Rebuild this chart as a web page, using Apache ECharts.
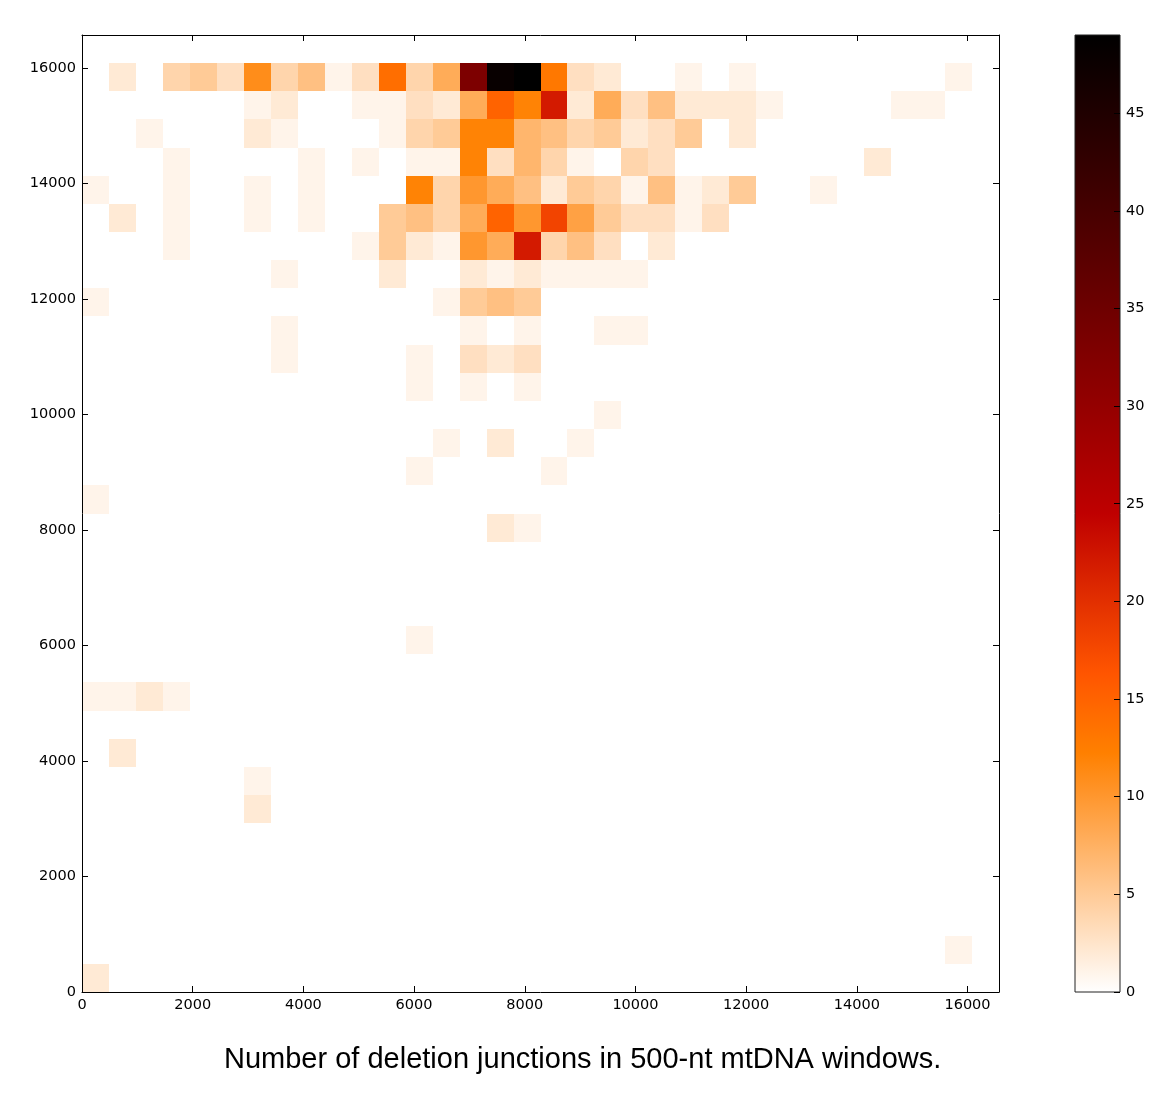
<!DOCTYPE html>
<html>
<head>
<meta charset="utf-8">
<title>Deletion junctions in mtDNA windows</title>
<script src="https://cdn.jsdelivr.net/npm/echarts@6/dist/echarts.min.js"></script>
<style>
  html, body { margin: 0; padding: 0; background: #ffffff; }
  #chart { width: 1173px; height: 1093px; }
</style>
</head>
<body>
<div id="chart"></div>
<script>
// mtDNA length, histogram has the same bins on both axes
const genomeLength = 16569;
const binCount = 34;
const binSize = genomeLength / binCount;

const axisTicks = [0, 2000, 4000, 6000, 8000, 10000, 12000, 14000, 16000];
const colorbarTicks = [0, 5, 10, 15, 20, 25, 30, 35, 40, 45];
const maxCount = 49;

// gist_heat reversed, sampled every 1/12 of the range
const heatColors = [
  '#ffffff', '#ffd4aa', '#ffaa55', '#ff8000', '#ff5500', '#df2b00', '#bf0000',
  '#9f0000', '#800000', '#600000', '#400000', '#200000', '#000000'
];

// [x bin, y bin, count], y bin 0 is the bottom row
const junctionCounts = [
  [1,32,2],[3,32,4],[4,32,5],[5,32,3],[6,32,11],[7,32,4],[8,32,6],[9,32,1],[10,32,3],[11,32,14],
  [12,32,4],[13,32,8],[14,32,33],[15,32,48],[16,32,49],[17,32,13],[18,32,3],[19,32,2],[22,32,1],[24,32,1],[32,32,1],

  [6,31,1],[7,31,2],[10,31,1],[11,31,1],[12,31,3],[13,31,2],[14,31,8],[15,31,15],[16,31,12],[17,31,22],
  [18,31,2],[19,31,8],[20,31,3],[21,31,6],[22,31,2],[23,31,2],[24,31,2],[25,31,1],[30,31,1],[31,31,1],

  [2,30,1],[6,30,2],[7,30,1],[11,30,1],[12,30,4],[13,30,5],[14,30,12],[15,30,12],[16,30,7],[17,30,6],
  [18,30,4],[19,30,5],[20,30,2],[21,30,3],[22,30,5],[24,30,2],

  [3,29,1],[8,29,1],[10,29,1],[12,29,1],[13,29,1],[14,29,12],[15,29,3],[16,29,7],[17,29,4],[18,29,1],
  [20,29,4],[21,29,3],[29,29,2],

  [0,28,1],[3,28,1],[6,28,1],[8,28,1],[12,28,12],[13,28,4],[14,28,10],[15,28,8],[16,28,6],[17,28,2],
  [18,28,5],[19,28,4],[20,28,1],[21,28,6],[22,28,1],[23,28,2],[24,28,5],[27,28,1],

  [1,27,2],[3,27,1],[6,27,1],[8,27,1],[11,27,5],[12,27,6],[13,27,4],[14,27,8],[15,27,15],[16,27,10],
  [17,27,18],[18,27,9],[19,27,5],[20,27,3],[21,27,3],[22,27,1],[23,27,3],

  [3,26,1],[10,26,1],[11,26,5],[12,26,2],[13,26,1],[14,26,10],[15,26,8],[16,26,22],[17,26,4],[18,26,6],
  [19,26,3],[21,26,2],

  [7,25,1],[11,25,2],[14,25,2],[15,25,1],[16,25,2],[17,25,1],[18,25,1],[19,25,1],[20,25,1],
  [0,24,1],[13,24,1],[14,24,5],[15,24,6],[16,24,5],
  [7,23,1],[14,23,1],[16,23,1],[19,23,1],[20,23,1],
  [7,22,1],[12,22,1],[14,22,3],[15,22,2],[16,22,3],
  [12,21,1],[14,21,1],[16,21,1],
  [19,20,1],
  [13,19,1],[15,19,2],[18,19,1],
  [12,18,1],[17,18,1],
  [0,17,1],
  [15,16,2],[16,16,1],
  [12,12,1],
  [0,10,1],[1,10,1],[2,10,2],[3,10,1],
  [1,8,2],
  [6,7,1],
  [6,6,2],
  [32,1,1],
  [0,0,2]
];

const black = '#000000';
const tickFont = { color: black, fontSize: 14.5, fontFamily: 'DejaVu Sans' };
const plainNumber = function (v) { return String(v); };

function frameAxis(extra) {
  return Object.assign({
    type: 'value',
    z: 5,
    axisLine: { show: true, onZero: false, lineStyle: { color: black, width: 1 } },
    axisTick: { show: true, inside: true, length: 6, customValues: axisTicks, lineStyle: { color: black } },
    axisLabel: Object.assign({ show: true, margin: 6, customValues: axisTicks, formatter: plainNumber }, tickFont),
    splitLine: { show: false }
  }, extra);
}

const chart = echarts.init(document.getElementById('chart'));

chart.setOption({
  animation: false,
  backgroundColor: '#ffffff',
  title: {
    text: 'Number of deletion junctions in 500-nt mtDNA windows.',
    left: 219,
    top: 1039,
    textStyle: { color: black, fontSize: 29, fontWeight: 'normal', fontFamily: 'Liberation Sans', lineHeight: 32 }
  },
  grid: [
    { left: 82, top: 35, width: 917, height: 957 },
    { left: 1075, top: 35, width: 45, height: 957 }
  ],
  xAxis: [
    frameAxis({ gridIndex: 0, position: 'bottom', min: 0, max: genomeLength }),
    frameAxis({ gridIndex: 0, position: 'top', min: 0, max: genomeLength, axisLabel: { show: false } }),
    { gridIndex: 1, type: 'value', min: 0, max: 1, show: false }
  ],
  yAxis: [
    frameAxis({ gridIndex: 0, position: 'left', min: 0, max: genomeLength }),
    frameAxis({ gridIndex: 0, position: 'right', min: 0, max: genomeLength, axisLabel: { show: false } }),
    {
      gridIndex: 1, type: 'value', position: 'right', min: 0, max: maxCount, z: 5,
      axisLine: { show: false, onZero: false },
      axisTick: { show: true, inside: true, length: 6, customValues: colorbarTicks, lineStyle: { color: black } },
      axisLabel: Object.assign({ show: true, margin: 6, customValues: colorbarTicks, formatter: plainNumber }, tickFont),
      splitLine: { show: false }
    }
  ],
  visualMap: {
    type: 'continuous',
    show: false,
    min: 0,
    max: maxCount,
    dimension: 2,
    seriesIndex: 0,
    inRange: { color: heatColors }
  },
  series: [
    {
      type: 'custom',
      xAxisIndex: 0,
      yAxisIndex: 0,
      silent: true,
      encode: { x: 0, y: 1 },
      data: junctionCounts,
      renderItem: function (params, api) {
        const col = api.value(0), row = api.value(1);
        const p0 = api.coord([col * binSize, (row + 1) * binSize]);
        const p1 = api.coord([(col + 1) * binSize, row * binSize]);
        const x0 = Math.round(p0[0]), y0 = Math.round(p0[1]);
        return {
          type: 'rect',
          shape: { x: x0, y: y0, width: Math.round(p1[0]) - x0, height: Math.round(p1[1]) - y0 },
          style: { fill: api.visual('color') }
        };
      }
    },
    {
      // colour bar
      type: 'custom',
      xAxisIndex: 2,
      yAxisIndex: 2,
      silent: true,
      data: [[0, maxCount]],
      renderItem: function (params, api) {
        const top = api.coord([0, api.value(1)]);
        const bottom = api.coord([1, 0]);
        const stops = heatColors.map(function (c, i) {
          return { offset: i / (heatColors.length - 1), color: c };
        });
        return {
          type: 'rect',
          shape: { x: top[0], y: top[1], width: bottom[0] - top[0], height: bottom[1] - top[1] },
          style: {
            fill: new echarts.graphic.LinearGradient(0, 1, 0, 0, stops),
            stroke: '#222222',
            lineWidth: 1
          }
        };
      }
    }
  ]
});
</script>
</body>
</html>
